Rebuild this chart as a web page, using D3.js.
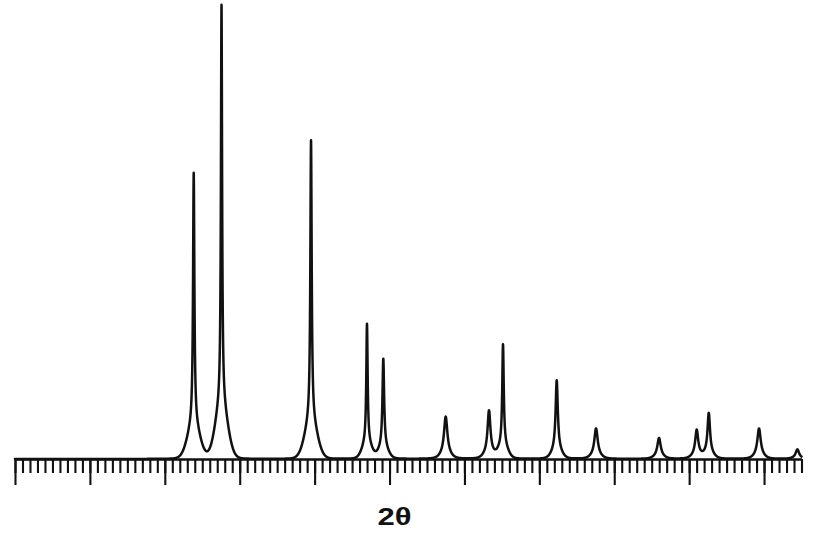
<!DOCTYPE html>
<html><head><meta charset="utf-8">
<script src="https://cdn.jsdelivr.net/npm/d3@7"></script>
<style>body{margin:0;background:#fff}</style>
</head><body><svg id="c" width="815" height="540"></svg>
<script>
// Peak data (2θ positions in axis units, relative intensities, core half-widths, foot widths)
const peakPositions   = [23.86, 27.57, 39.52, 46.99, 49.17, 57.50, 63.28, 65.15, 72.32, 77.57, 85.98, 91.01, 92.62, 99.33, 104.45];
const peakIntensities = [63.0, 100, 70.2, 29.7, 22.0, 9.3, 10.6, 25.1, 17.3, 6.7, 4.6, 6.3, 10.0, 6.7, 2.1];
const peakCoreWidths  = [0.107, 0.093, 0.107, 0.107, 0.133, 0.267, 0.227, 0.12, 0.174, 0.267, 0.267, 0.24, 0.2, 0.267, 0.267];
const peakFootWidths  = [0.80, 0.80, 0.80, 0.60, 0.60, 0.60, 0.60, 0.60, 0.60, 0.60, 0.60, 0.60, 0.60, 0.60, 0.60];
const xDomain = [0, 105];
const majorTicks = d3.range(0, 101, 10);
const minorTicks = d3.range(0, 106, 1);
const axisLabel = "2θ";

const svg = d3.select("#c");
svg.append("rect").attr("width", 815).attr("height", 540).attr("fill", "#fff");
const x = d3.scaleLinear().domain(xDomain).range([15, 801.5]);
const y = d3.scaleLinear().domain([0, 100]).range([459, 5]);

function profile(t){
  let s = 0;
  peakPositions.forEach((p, i) => {
    const d = t - p, w = peakCoreWidths[i], sg = peakFootWidths[i];
    s += peakIntensities[i] * (0.88 / (1 + (d / w) ** 2) + 0.12 * Math.exp(-d * d / (2 * sg * sg)));
  });
  return s;
}
const xs = d3.range(xDomain[0], xDomain[1] + 1e-6, 0.01).concat(peakPositions).sort((a, b) => a - b);
const pts = xs.map(t => [t, profile(t)]);

// axes
const minorAxis = d3.axisBottom(x).tickValues(minorTicks).tickSize(14).tickSizeOuter(0).tickFormat("");
const majorAxis = d3.axisBottom(x).tickValues(majorTicks).tickSize(26).tickSizeOuter(0).tickFormat("");
const gMin = svg.append("g").attr("transform", "translate(0,459)").call(minorAxis);
const gMaj = svg.append("g").attr("transform", "translate(0,459)").call(majorAxis);
gMaj.select(".domain").remove();
gMin.select(".domain").attr("stroke", "#111").attr("stroke-width", 2.6);
svg.selectAll(".tick line").attr("stroke", "#111").attr("stroke-width", 2.1);

svg.append("path")
  .datum(pts)
  .attr("fill", "none")
  .attr("stroke", "#111")
  .attr("stroke-width", 2.5)
  .attr("stroke-linejoin", "round")
  .attr("stroke-linecap", "round")
  .attr("d", d3.line().x(d => x(d[0])).y(d => y(d[1])));

svg.append("text")
  .attr("x", 394.5).attr("y", 525)
  .attr("text-anchor", "middle")
  .attr("font-family", "'Liberation Sans', Arial, sans-serif")
  .attr("font-weight", "bold")
  .attr("font-size", 23)
  .attr("textLength", 34)
  .attr("lengthAdjust", "spacingAndGlyphs")
  .attr("fill", "#111")
  .text(axisLabel);
</script>
</body></html>
